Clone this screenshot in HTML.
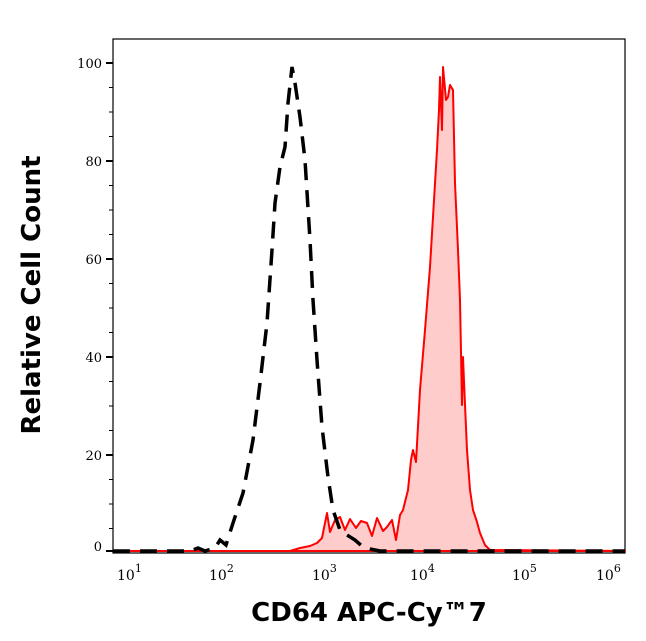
<!DOCTYPE html>
<html><head><style>
body{margin:0;background:#fff}
svg{display:block}
text{font-family:"DejaVu Serif","Liberation Serif",serif}
</style></head><body>
<svg width="646" height="641" viewBox="0 0 646 641" xmlns="http://www.w3.org/2000/svg">
<rect x="113" y="39" width="512" height="514" fill="none" stroke="#000" stroke-width="1.2"/>
<path d="M113,551 L290,551 L300,548 L310,546 L317,543 L322,538 L327,513 L330,532 L335,520 L340,517 L345,530 L350,519 L356,528 L361,521 L367,523 L372,536 L377,518 L383,531 L387,527 L392,520 L396,540 L400,515 L403,510 L408,490 L411,460 L413,450 L416,462 L420,390 L425,330 L430,267 L434,200 L437,150 L439,110 L440,77 L442,130 L443,67 L446,100 L448,97 L450,85 L453,90 L455,183 L458,250 L460,300 L462,405 L463,357 L465,405 L467,450 L470,490 L473,510 L477,522 L480,533 L485,545 L490,550 L625,551 Z" fill="#ffcccc" stroke="#ff0000" stroke-width="2" stroke-linejoin="round"/>
<path d="M113,551 L190,551 L198,548 L205,551 L215,548 L220,540 L226,545 L233,523 L243,493 L253,440 L260,383 L267,323 L272,250 L275,203 L280,167 L285,147 L288,103 L292,67 L295,83 L300,117 L305,160 L310,240 L313,300 L317,360 L322,427 L328,477 L333,510 L340,530 L347,535 L355,540 L363,547 L370,549 L380,551 L625,551" fill="none" stroke="#000" stroke-width="3.5" stroke-dasharray="17,10"/>
<g stroke="#000" stroke-width="1">
<line x1="106" y1="63" x2="113" y2="63" stroke-width="2"/>
<line x1="106" y1="161" x2="113" y2="161" stroke-width="2"/>
<line x1="106" y1="259" x2="113" y2="259" stroke-width="2"/>
<line x1="106" y1="357" x2="113" y2="357" stroke-width="2"/>
<line x1="106" y1="455" x2="113" y2="455" stroke-width="2"/>
<line x1="106" y1="551" x2="113" y2="551" stroke-width="2"/>
<line x1="109" y1="87.5" x2="113" y2="87.5"/><line x1="109" y1="112" x2="113" y2="112"/><line x1="109" y1="136.5" x2="113" y2="136.5"/>
<line x1="109" y1="185.5" x2="113" y2="185.5"/><line x1="109" y1="210" x2="113" y2="210"/><line x1="109" y1="234.5" x2="113" y2="234.5"/>
<line x1="109" y1="283.5" x2="113" y2="283.5"/><line x1="109" y1="308" x2="113" y2="308"/><line x1="109" y1="332.5" x2="113" y2="332.5"/>
<line x1="109" y1="381.5" x2="113" y2="381.5"/><line x1="109" y1="406" x2="113" y2="406"/><line x1="109" y1="430.5" x2="113" y2="430.5"/>
<line x1="109" y1="479.5" x2="113" y2="479.5"/><line x1="109" y1="504" x2="113" y2="504"/><line x1="109" y1="528.5" x2="113" y2="528.5"/>
</g>
<g font-size="13" text-anchor="end" fill="#000">
<text x="102" y="68">100</text><text x="102" y="166">80</text><text x="102" y="264">60</text>
<text x="102" y="362">40</text><text x="102" y="460">20</text><text x="102" y="551">0</text>
</g>
<g stroke="#000" stroke-width="2" id="xt"></g>
<g font-size="14" fill="#000">
<text x="117" y="580">10<tspan dy="-8" font-size="11">1</tspan></text>
<text x="209" y="580">10<tspan dy="-8" font-size="11">2</tspan></text>
<text x="312" y="580">10<tspan dy="-8" font-size="11">3</tspan></text>
<text x="410" y="580">10<tspan dy="-8" font-size="11">4</tspan></text>
<text x="512" y="580">10<tspan dy="-8" font-size="11">5</tspan></text>
<text x="596" y="580">10<tspan dy="-8" font-size="11">6</tspan></text>
</g>
<text x="369" y="621" font-weight="bold" font-size="26" text-anchor="middle" style="font-family:'DejaVu Sans',sans-serif">CD64 APC-Cy™7</text>
<text transform="translate(40,295) rotate(-90)" font-weight="bold" font-size="26" text-anchor="middle" style="font-family:'DejaVu Sans',sans-serif">Relative Cell Count</text>
<script>
var g=document.getElementById('xt'),s='';
for(var d=0;d<=5;d++){var b=115+102*d;
 s+='<line x1="'+b+'" y1="553" x2="'+b+'" y2="561"/>';
 if(d<5)for(var k=2;k<10;k++){var x=b+102*Math.log10(k);s+='<line x1="'+x+'" y1="553" x2="'+x+'" y2="557" stroke-width="1.2"/>';}
}
g.innerHTML=s;
</script>
</svg>
</body></html>
